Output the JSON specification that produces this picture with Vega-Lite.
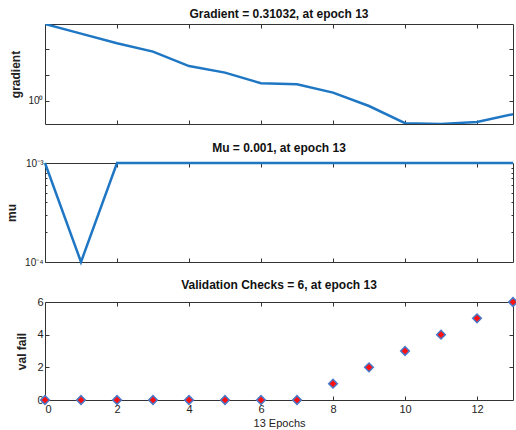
{
  "$schema": "https://vega.github.io/schema/vega-lite/v6.json",
  "padding": {"left": 5, "top": 7, "right": 3, "bottom": 2},
  "spacing": 16,
  "config": {
    "font": "Liberation Sans",
    "view": {"stroke": "#333333", "strokeWidth": 1},
    "axis": {"domain": false, "grid": false, "tickSize": -4, "tickColor": "#333333", "tickWidth": 1, "labelFont": "Liberation Sans", "labelFontSize": 11, "labelColor": "#222222", "titleFont": "Liberation Sans", "titleFontSize": 12, "titleFontWeight": "bold", "titleColor": "#222222", "labelPadding": 6},
    "title": {"font": "Liberation Sans", "fontSize": 12, "fontWeight": "bold", "color": "#111111", "offset": 3}
  },
  "vconcat": [
    {
      "width": 468, "height": 100,
      "title": "Gradient = 0.31032, at epoch 13",
      "data": {"values": [
        {"epoch": 0, "gradient": 912},
        {"epoch": 1, "gradient": 388},
        {"epoch": 2, "gradient": 166},
        {"epoch": 3, "gradient": 79},
        {"epoch": 4, "gradient": 22},
        {"epoch": 5, "gradient": 12.3},
        {"epoch": 6, "gradient": 4.8},
        {"epoch": 7, "gradient": 4.4},
        {"epoch": 8, "gradient": 2.1},
        {"epoch": 9, "gradient": 0.64},
        {"epoch": 10, "gradient": 0.14},
        {"epoch": 11, "gradient": 0.13},
        {"epoch": 12, "gradient": 0.156},
        {"epoch": 13, "gradient": 0.31032}
      ]},
      "layer": [
        {
          "mark": {"type": "line", "color": "#1f77c4", "strokeWidth": 2.5, "clip": true},
          "encoding": {
            "x": {"field": "epoch", "type": "quantitative", "scale": {"domain": [0, 13], "nice": false, "zero": false}, "axis": {"values": [2, 4, 6, 8, 10, 12], "labels": false, "title": null, "orient": "bottom"}},
            "y": {"field": "gradient", "type": "quantitative", "scale": {"type": "log", "domain": [0.13, 912], "nice": false}, "axis": {"values": [1, 10, 100], "labelExpr": "datum.value == 1 ? '10⁰' : ''", "title": "gradient", "orient": "left", "labelFontSize": 10, "titlePadding": 5}}
          }
        },
        {
          "mark": {"type": "line", "opacity": 0},
          "encoding": {
            "x": {"field": "epoch", "type": "quantitative", "scale": {"domain": [0, 13], "nice": false, "zero": false}, "axis": {"values": [2, 4, 6, 8, 10, 12], "labels": false, "title": null, "orient": "top"}},
            "y": {"field": "gradient", "type": "quantitative", "scale": {"type": "log", "domain": [0.13, 912], "nice": false}, "axis": {"values": [1, 10, 100], "labels": false, "title": null, "orient": "right"}}
          }
        }
      ],
      "resolve": {"axis": {"x": "independent", "y": "independent"}}
    },
    {
      "spacing": 10,
      "vconcat": [
        {
          "width": 468, "height": 99,
          "title": "Mu = 0.001, at epoch 13",
          "data": {"values": [
            {"epoch": 0, "mu": 0.001},
            {"epoch": 1, "mu": 0.0001},
            {"epoch": 2, "mu": 0.001},
            {"epoch": 3, "mu": 0.001},
            {"epoch": 4, "mu": 0.001},
            {"epoch": 5, "mu": 0.001},
            {"epoch": 6, "mu": 0.001},
            {"epoch": 7, "mu": 0.001},
            {"epoch": 8, "mu": 0.001},
            {"epoch": 9, "mu": 0.001},
            {"epoch": 10, "mu": 0.001},
            {"epoch": 11, "mu": 0.001},
            {"epoch": 12, "mu": 0.001},
            {"epoch": 13, "mu": 0.001}
          ]},
          "layer": [
            {
              "mark": {"type": "line", "color": "#1f77c4", "strokeWidth": 2.5},
              "encoding": {
                "x": {"field": "epoch", "type": "quantitative", "scale": {"domain": [0, 13], "nice": false, "zero": false}, "axis": {"values": [2, 4, 6, 8, 10, 12], "labels": false, "title": null, "orient": "bottom"}},
                "y": {"field": "mu", "type": "quantitative", "scale": {"type": "log", "domain": [0.0001, 0.001], "nice": false}, "axis": {"values": [0.0001, 0.0002, 0.0003, 0.0004, 0.0005, 0.0006, 0.0007, 0.0008, 0.0009, 0.001], "labelExpr": "datum.value == 0.001 ? '10⁻³' : (datum.value == 0.0001 ? '10⁻⁴' : '')", "title": "mu", "orient": "left", "labelFontSize": 10, "tickSize": -2, "labelPadding": 4, "titlePadding": 6}}
              }
            },
            {
              "mark": {"type": "line", "opacity": 0},
              "encoding": {
                "x": {"field": "epoch", "type": "quantitative", "scale": {"domain": [0, 13], "nice": false, "zero": false}, "axis": {"values": [2, 4, 6, 8, 10, 12], "labels": false, "title": null, "orient": "top"}},
                "y": {"field": "mu", "type": "quantitative", "scale": {"type": "log", "domain": [0.0001, 0.001], "nice": false}, "axis": {"values": [0.0002, 0.0003, 0.0004, 0.0005, 0.0006, 0.0007, 0.0008, 0.0009], "labels": false, "title": null, "orient": "right", "tickSize": -2}}
              }
            }
          ],
          "resolve": {"axis": {"x": "independent", "y": "independent"}}
        },
        {
          "width": 468, "height": 98,
          "title": "Validation Checks = 6, at epoch 13",
          "data": {"values": [
            {"epoch": 0, "valfail": 0},
            {"epoch": 1, "valfail": 0},
            {"epoch": 2, "valfail": 0},
            {"epoch": 3, "valfail": 0},
            {"epoch": 4, "valfail": 0},
            {"epoch": 5, "valfail": 0},
            {"epoch": 6, "valfail": 0},
            {"epoch": 7, "valfail": 0},
            {"epoch": 8, "valfail": 1},
            {"epoch": 9, "valfail": 2},
            {"epoch": 10, "valfail": 3},
            {"epoch": 11, "valfail": 4},
            {"epoch": 12, "valfail": 5},
            {"epoch": 13, "valfail": 6}
          ]},
          "layer": [
            {
              "mark": {"type": "point", "shape": "diamond", "filled": true, "fill": "#ff1010", "stroke": "#4a78c8", "strokeWidth": 1.5, "size": 75, "opacity": 1},
              "encoding": {
                "x": {"field": "epoch", "type": "quantitative", "scale": {"domain": [0, 13], "nice": false, "zero": false}, "axis": {"values": [0, 2, 4, 6, 8, 10, 12], "format": "d", "title": "13 Epochs", "titleFontWeight": "normal", "titleFontSize": 11, "titlePadding": 3, "orient": "bottom", "labelPadding": 7}},
                "y": {"field": "valfail", "type": "quantitative", "scale": {"domain": [0, 6], "nice": false}, "axis": {"values": [0, 2, 4, 6], "format": "d", "title": "val fail", "orient": "left", "titlePadding": 8}}
              }
            },
            {
              "mark": {"type": "point", "opacity": 0},
              "encoding": {
                "x": {"field": "epoch", "type": "quantitative", "scale": {"domain": [0, 13], "nice": false, "zero": false}, "axis": {"values": [2, 4, 6, 8, 10, 12], "labels": false, "title": null, "orient": "top"}},
                "y": {"field": "valfail", "type": "quantitative", "scale": {"domain": [0, 6], "nice": false}, "axis": {"values": [2, 4], "labels": false, "title": null, "orient": "right"}}
              }
            }
          ],
          "resolve": {"axis": {"x": "independent", "y": "independent"}}
        }
      ]
    }
  ]
}
